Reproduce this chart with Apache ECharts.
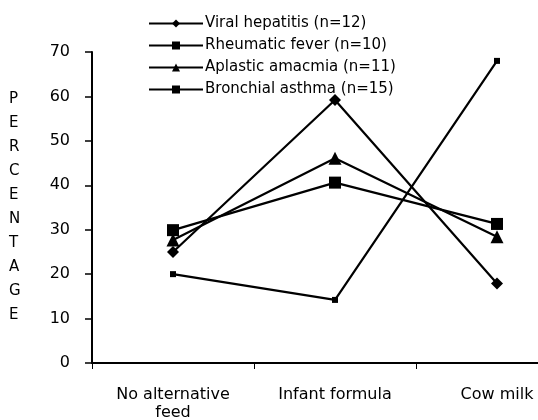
<!DOCTYPE html>
<html>
<head>
<meta charset="utf-8">
<script src="https://cdn.jsdelivr.net/npm/echarts@6/dist/echarts.min.js"></script>
<style>
  html, body { margin: 0; padding: 0; background: #fff; overflow: hidden; }
  /* the plot runs past the right edge of the window, as in the scan */
  #chart { width: 578px; height: 420px; }
</style>
</head>
<body>
<div id="chart"></div>
<script>
// data
var categories = ['No alternative\nfeed', 'Infant formula', 'Cow milk']
var viralHepatitis = [25.0, 59.2, 17.9]
var rheumaticFever = [29.9, 40.6, 31.3]
var aplasticAnaemia = [27.7, 46.1, 28.4]
var bronchialAsthma = [20.0, 14.2, 68.0]
var yTicks = [0, 10, 20, 30, 40, 50, 60, 70]

var myChart = echarts.init(document.getElementById('chart'))
var font = 'DejaVu Sans, sans-serif'

function line(name, data, symbol, size) {
  return {
    name: name,
    type: 'line',
    data: data,
    symbol: symbol,
    symbolSize: size,
    itemStyle: { color: '#000' },
    lineStyle: { color: '#000', width: 2.2 },
    emphasis: { disabled: true }
  }
}

var option = {
  animation: false,
  backgroundColor: '#fff',
  grid: { left: 92, right: 0, top: 52, bottom: 57, outerBoundsMode: 'none' },
  legend: {
    orient: 'vertical',
    left: 143,
    top: 11,
    itemWidth: 54,
    itemHeight: 10,
    itemGap: 7,
    textStyle: { color: '#000', fontSize: 15, fontFamily: font, padding: [0, 0, 0, -3] },
    data: ['Viral hepatitis (n=12)', 'Rheumatic fever (n=10)', 'Aplastic amacmia (n=11)', 'Bronchial asthma (n=15)']
  },
  graphic: [{
    type: 'text',
    left: 9,
    top: 87,
    style: {
      text: 'PERCENTAGE'.split('').join('\n'),
      fontSize: 15,
      lineHeight: 24,
      fontFamily: font,
      fill: '#000',
      align: 'center'
    }
  }],
  xAxis: {
    type: 'category',
    data: categories,
    axisLine: { lineStyle: { color: '#000', width: 2 } },
    axisTick: { show: true, length: 6, lineStyle: { color: '#000' } },
    axisLabel: { color: '#000', fontSize: 16, fontFamily: font, margin: 23, lineHeight: 18 }
  },
  yAxis: {
    type: 'value',
    min: yTicks[0],
    max: yTicks[yTicks.length - 1],
    interval: 10,
    axisLine: { show: true, lineStyle: { color: '#000', width: 2 } },
    axisTick: { show: true, length: 7, lineStyle: { color: '#000', width: 1.5 } },
    axisLabel: { color: '#000', fontSize: 16, fontFamily: font, margin: 22 },
    splitLine: { show: false }
  },
  series: [
    line('Viral hepatitis (n=12)', viralHepatitis, 'diamond', 12),
    line('Rheumatic fever (n=10)', rheumaticFever, 'rect', 12),
    line('Aplastic amacmia (n=11)', aplasticAnaemia, 'triangle', 13),
    line('Bronchial asthma (n=15)', bronchialAsthma, 'rect', 6)
  ]
}
myChart.setOption(option)
</script>
</body>
</html>
